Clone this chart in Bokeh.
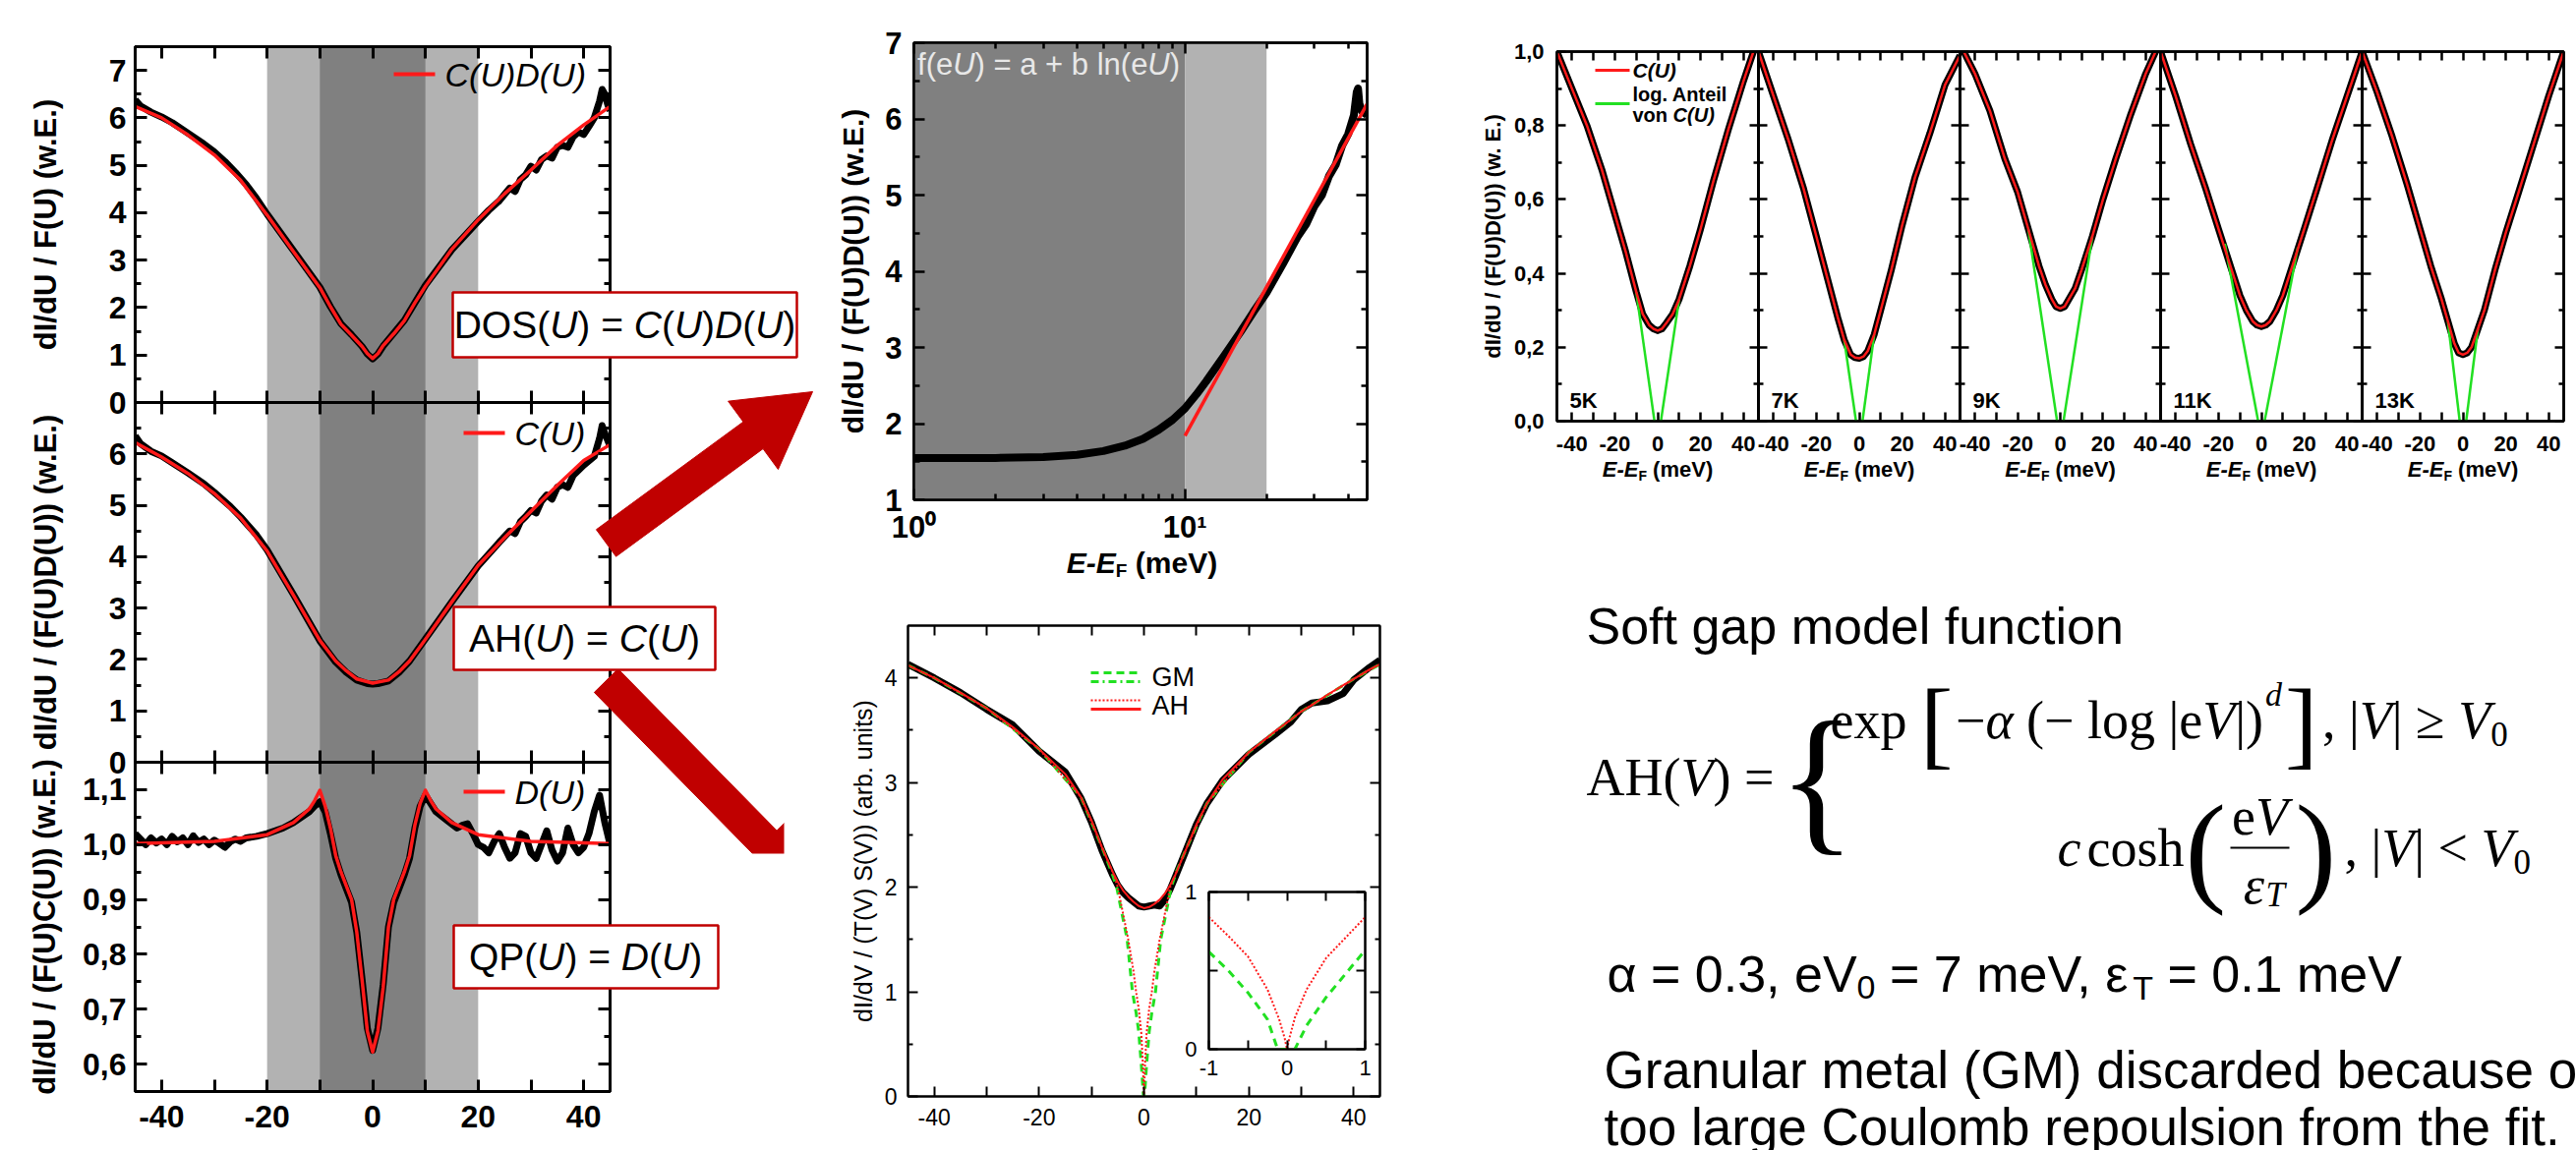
import math
from bokeh.plotting import figure
from bokeh.models import (Range1d, LinearAxis, LogAxis, FixedTicker, Column,
                          CustomJSTickFormatter, BoxAnnotation, Label)
from bokeh.embed import file_html
from bokeh.resources import INLINE

# ------------------------------------------------------------------ data
# Left column: normalised tunnelling spectra vs. E-E_F (meV)
DOS_X = [-45, -40, -35, -30, -25, -20, -15, -10, -8, -6, -4, -2, -1, 0,
         1, 2, 4, 6, 8, 10, 15, 20, 25, 30, 35, 40, 45]
DOS_FIT = [6.24, 6.0, 5.64, 5.22, 4.68, 3.95, 3.18, 2.42, 2.02, 1.65, 1.42, 1.18, 1.03, 0.93,
           1.03, 1.2, 1.45, 1.72, 2.1, 2.45, 3.23, 3.85, 4.4, 4.9, 5.42, 5.85, 6.24]
DOS_DATA = [(-45, 6.38), (-44, 6.25), (-42, 6.12), (-40, 6.02), (-38, 5.9), (-36, 5.75),
            (-34, 5.6), (-32, 5.45), (-30, 5.28), (-28, 5.08), (-26, 4.85), (-24, 4.6),
            (-22, 4.3), (-20, 3.97), (-15, 3.2), (-10, 2.43), (-8, 2.02), (-6, 1.66),
            (-4, 1.43), (-2, 1.18), (-1, 1.02), (0, 0.92), (1, 1.02), (2, 1.19), (4, 1.46),
            (6, 1.73), (8, 2.1), (10, 2.47), (15, 3.22), (20, 3.82), (22, 4.05), (24, 4.25),
            (26, 4.52), (27, 4.45), (28, 4.7), (29, 4.8), (30, 4.98), (31, 4.9), (32, 5.12),
            (33, 5.2), (34, 5.15), (35, 5.38), (36, 5.42), (37, 5.38), (38, 5.6), (39, 5.7),
            (40, 5.65), (41, 5.82), (42, 6.0), (43, 6.35), (43.5, 6.6), (44, 6.5),
            (44.5, 6.3), (45, 6.15)]

C_X = [-45, -40, -35, -30, -25, -20, -15, -10, -7, -5, -3, 0,
       3, 5, 7, 10, 15, 20, 25, 30, 35, 40, 45]
C_FIT = [6.22, 5.94, 5.62, 5.23, 4.75, 4.11, 3.25, 2.37, 1.97, 1.78, 1.62, 1.54,
         1.6, 1.76, 1.97, 2.39, 3.12, 3.83, 4.37, 4.88, 5.39, 5.87, 6.18]
C_DATA = [(-45, 6.35), (-44, 6.2), (-42, 6.05), (-40, 5.96), (-38, 5.83), (-35, 5.63),
          (-32, 5.42), (-30, 5.25), (-27, 4.98), (-25, 4.77), (-22, 4.42), (-20, 4.13),
          (-15, 3.26), (-10, 2.36), (-7, 1.95), (-5, 1.75), (-3, 1.6), (-1, 1.53), (0, 1.52),
          (1, 1.53), (3, 1.58), (5, 1.75), (7, 1.97), (10, 2.4), (15, 3.12), (20, 3.82),
          (24, 4.28), (26, 4.5), (27, 4.45), (28, 4.68), (29, 4.78), (30, 4.9), (31, 4.85),
          (32, 5.08), (33, 5.2), (34, 5.12), (35, 5.35), (36, 5.4), (37, 5.35), (38, 5.58),
          (40, 5.78), (42, 5.95), (43, 6.3), (43.5, 6.55), (44, 6.4), (45, 6.15)]

D_X = [-45, -30, -20, -15, -12, -11, -10, -9, -8, -7, -6, -5, -4, -3, -2, -1, 0,
       1, 2, 3, 4, 5, 6, 7, 8, 9, 10, 11, 12, 15, 20, 30, 45]
D_FIT = [1.002, 1.006, 1.018, 1.04, 1.065, 1.08, 1.099, 1.07, 1.03, 0.98, 0.95, 0.925,
         0.9, 0.84, 0.753, 0.66, 0.622, 0.66, 0.74, 0.85, 0.9, 0.925, 0.95, 0.98, 1.035,
         1.075, 1.099, 1.08, 1.065, 1.04, 1.018, 1.006, 1.002]
D_DATA = [(-45, 1.02), (-44, 1.01), (-43, 1.0), (-42, 1.012), (-41, 1.003), (-40, 1.01),
          (-39, 1.0), (-38, 1.015), (-37, 1.005), (-36, 1.012), (-35, 1.0), (-34, 1.016),
          (-33, 1.004), (-32, 1.01), (-31, 1.0), (-30, 1.008), (-29, 1.002), (-28, 0.995),
          (-27, 1.005), (-26, 1.01), (-25, 1.006), (-24, 1.012), (-22, 1.015), (-20, 1.02),
          (-17, 1.03), (-15, 1.04), (-12, 1.06), (-11, 1.07), (-10, 1.078), (-9, 1.06),
          (-8, 1.02), (-7, 0.975), (-6, 0.945), (-5, 0.92), (-4, 0.895), (-3, 0.84),
          (-2, 0.755), (-1, 0.665), (0, 0.625), (1, 0.665), (2, 0.745), (3, 0.85), (4, 0.895),
          (5, 0.92), (6, 0.945), (7, 0.975), (8, 1.03), (9, 1.07), (10, 1.09), (11, 1.075),
          (12, 1.06), (14, 1.045), (16, 1.03), (17, 1.035), (18, 1.038), (19, 1.02), (20, 1.0),
          (21, 0.995), (22, 0.985), (23, 1.005), (24, 1.02), (25, 0.995), (26, 0.975),
          (27, 0.985), (28, 1.02), (29, 1.015), (30, 0.985), (31, 0.975), (32, 1.0),
          (33, 1.025), (34, 0.99), (35, 0.97), (36, 0.985), (37, 1.03), (38, 1.0),
          (39, 0.985), (40, 0.995), (41, 1.02), (42, 1.06), (43, 1.09), (44, 1.04), (45, 1.0)]

SHADE_OUTER = (-20, 20)
SHADE_INNER = (-10, 10)

# Log-scale panel: one branch of C(U) against E-E_F (meV)
LOG_DATA = [(1, 1.55), (1.5, 1.55), (2, 1.55), (3, 1.56), (4, 1.59), (5, 1.64), (6, 1.71),
            (7, 1.8), (8, 1.92), (9, 2.05), (10, 2.2), (11, 2.38), (12, 2.56), (14, 2.9),
            (16, 3.2), (18, 3.48), (20, 3.72), (23, 4.1), (26, 4.45), (28, 4.62), (30, 4.85),
            (32, 5.0), (34, 5.25), (36, 5.4), (38, 5.65), (40, 5.8), (42, 6.05), (43, 6.35),
            (43.5, 6.4), (44, 6.2), (45, 6.1), (47, 6.05)]
LOG_FIT = [(10, 1.84), (47, 6.2)]
LOG_SHADE_DARK = (1, 10)
LOG_SHADE_LIGHT = (10, 20)

# Soft-gap fit panel (arb. units)
SG_X = [-45, -40, -35, -30, -25, -20, -15, -12, -10, -8, -6, -5, -4, -3, -2, -1, 0,
        1, 2, 3, 4, 5, 6, 8, 10, 12, 15, 20, 25, 28, 30, 32, 35, 38, 40, 43, 45]
SG_DATA = [4.13, 4.0, 3.86, 3.7, 3.55, 3.3, 3.1, 2.85, 2.62, 2.35, 2.12, 2.02, 1.95, 1.9,
           1.86, 1.82, 1.81, 1.82, 1.83, 1.82, 1.88, 1.98, 2.1, 2.35, 2.6, 2.8, 3.02, 3.27,
           3.46, 3.58, 3.7, 3.76, 3.78, 3.85, 3.98, 4.1, 4.17]
SG_FIT = [4.12, 4.0, 3.86, 3.71, 3.53, 3.32, 3.08, 2.86, 2.64, 2.38, 2.15, 2.05, 1.97, 1.91,
          1.86, 1.82, 1.8, 1.81, 1.84, 1.88, 1.94, 2.02, 2.12, 2.36, 2.6, 2.8, 3.03, 3.29,
          3.49, 3.6, 3.68, 3.74, 3.84, 3.93, 3.99, 4.08, 4.13]
AH_CURVE = [(-45, 4.12), (-40, 4.0), (-30, 3.71), (-20, 3.32), (-12, 2.86), (-8, 2.38),
            (-6, 2.15), (-5, 2.0), (-4, 1.75), (-3, 1.5), (-2, 1.2), (-1.5, 1.0), (-1, 0.84),
            (-0.5, 0.6), (-0.2, 0.3), (0, 0), (0.2, 0.3), (0.5, 0.6), (1, 0.84), (1.5, 1.0),
            (2, 1.2), (3, 1.5), (4, 1.75), (5, 2.0), (6, 2.12), (8, 2.36), (12, 2.8),
            (20, 3.29), (30, 3.68), (40, 3.99), (45, 4.13)]
GM_CURVE = [(-45, 4.12), (-40, 4.0), (-30, 3.71), (-20, 3.32), (-12, 2.86), (-8, 2.38),
            (-6.2, 2.15), (-5.2, 2.0), (-4.2, 1.75), (-3.2, 1.5), (-2.2, 1.0), (-1.5, 0.8),
            (-1, 0.62), (-0.5, 0.3), (-0.1, 0), (0.1, 0), (0.5, 0.3), (1, 0.62), (1.5, 0.8),
            (2.2, 1.0), (3.2, 1.5), (4.2, 1.75), (5.2, 2.0), (6.2, 2.15), (8, 2.36),
            (12, 2.8), (20, 3.29), (30, 3.68), (40, 3.99), (45, 4.13)]
INSET_AH = [(-1, 0.84), (-0.75, 0.72), (-0.5, 0.59), (-0.25, 0.38), (-0.1, 0.19),
            (-0.03, 0.07), (0, 0), (0.03, 0.07), (0.1, 0.2), (0.25, 0.38), (0.5, 0.58),
            (0.75, 0.71), (1, 0.84)]
INSET_GM = [(-1, 0.62), (-0.75, 0.5), (-0.5, 0.36), (-0.25, 0.19), (-0.12, 0), (0.1, 0),
            (0.25, 0.15), (0.5, 0.33), (0.75, 0.48), (1, 0.63)]

# Temperature series: C(U) normalised, E-E_F (meV)
TEMPS = ["5K", "7K", "9K", "11K", "13K"]
T_X = [-47, -40, -33, -26, -20, -15, -10, -7, -4, -2, 0, 2, 4, 7, 10, 15, 20, 26, 33, 40, 47]
C_5K = [1.0, 0.9, 0.8, 0.68, 0.56, 0.46, 0.35, 0.29, 0.26, 0.25, 0.245, 0.25, 0.265, 0.29,
        0.33, 0.42, 0.52, 0.65, 0.79, 0.92, 1.04]
C_7K = [1.0, 0.88, 0.76, 0.63, 0.5, 0.39, 0.28, 0.22, 0.18, 0.172, 0.17, 0.175, 0.19, 0.235,
        0.3, 0.41, 0.53, 0.66, 0.78, 0.91, 0.99]
C_9K = [1.02, 0.94, 0.84, 0.71, 0.62, 0.52, 0.42, 0.37, 0.33, 0.31, 0.305, 0.31, 0.33, 0.36,
        0.41, 0.5, 0.6, 0.71, 0.83, 0.94, 1.03]
C_11K = [1.0, 0.88, 0.75, 0.63, 0.52, 0.43, 0.34, 0.3, 0.27, 0.26, 0.256, 0.26, 0.27, 0.3,
         0.34, 0.43, 0.52, 0.63, 0.76, 0.88, 1.0]
C_13K = [1.0, 0.89, 0.77, 0.64, 0.52, 0.42, 0.33, 0.27, 0.21, 0.185, 0.18, 0.185, 0.2, 0.25,
         0.3, 0.41, 0.51, 0.62, 0.75, 0.88, 1.0]
T_FIT = [C_5K, C_7K, C_9K, C_11K, C_13K]
# logarithmic part of C(U): where it leaves the fit and where it reaches zero
LOG_JOIN_X = [10, 7, 15, 17, 7]
LOG_JOIN_LEFT = [0.35, 0.22, 0.52, 0.48, 0.27]
LOG_JOIN_RIGHT = [0.33, 0.235, 0.5, 0.47, 0.25]
LOG_ZERO_X = [1.5, 1.5, 1.5, 1.5, 1.5]

# tick positions
LEFT_XTICKS = [-40, -30, -20, -10, 0, 10, 20, 30, 40]
TOP_YTICKS = [0, 1, 2, 3, 4, 5, 6, 7]
TOP_YMINOR = [0.5, 1.5, 2.5, 3.5, 4.5, 5.5, 6.5]
MID_YTICKS = [0, 1, 2, 3, 4, 5, 6]
MID_YMINOR = [0.5, 1.5, 2.5, 3.5, 4.5, 5.5, 6.5]
BOT_YTICKS = [0.6, 0.7, 0.8, 0.9, 1.0, 1.1]
BOT_YMINOR = [0.65, 0.75, 0.85, 0.95, 1.05]
LOG_XTICKS = [1, 10]
LOG_XMINOR = [2, 3, 4, 5, 6, 7, 8, 9, 20, 30, 40]
LOG_YTICKS = [1, 2, 3, 4, 5, 6, 7]
LOG_YMINOR = [1.5, 2.5, 3.5, 4.5, 5.5, 6.5]
SG_XTICKS = [-40, -30, -20, -10, 0, 10, 20, 30, 40]
SG_YTICKS = [0, 1, 2, 3, 4]
SG_YMINOR = [0.5, 1.5, 2.5, 3.5]
IN_XTICKS = [-1, 0, 1]
IN_XMINOR = [-0.5, 0.5]
IN_YTICKS = [0, 1]
IN_YMINOR = [0.5]
T_XTICKS = [-40, -30, -20, -10, 0, 10, 20, 30, 40]
T_YTICKS = [0.0, 0.2, 0.4, 0.6, 0.8, 1.0]
T_YMINOR = [0.1, 0.3, 0.5, 0.7, 0.9]

# ------------------------------------------------------------------ style
W, H = 2620, 1170
SANS = "Liberation Sans"
SERIF = "Liberation Serif"
DARK_RED = "#c00000"
RED = "#ff1a1a"
GREEN = "#22e022"
LIGHT_GRAY = "#b2b2b2"
DARK_GRAY = "#808080"

FMT_INT = "return tick.toFixed(0);"
FMT_INT20 = "return (Math.abs(Math.round(tick)) % 20 === 0) ? tick.toFixed(0) : '';"
FMT_COMMA = "return tick.toFixed(1).replace('.', ',');"
FMT_LOG = ("if (Math.abs(tick - 1) < 1e-6) return '10\u2070';"
           "if (Math.abs(tick - 10) < 1e-6) return '10\u00b9'; return '';")

# advance widths (em) used to chain text pieces
REG = {' ': .278, '(': .333, ')': .333, '-': .333, '=': .584, '+': .584, '.': .278,
       ',': .278, 'A': .667, 'C': .722, 'D': .722, 'E': .667, 'F': .611, 'H': .722,
       'O': .778, 'P': .667, 'Q': .778, 'S': .667, 'T': .611, 'U': .722, 'V': .667,
       'a': .556, 'b': .556, 'e': .556, 'f': .278, 'l': .222, 'm': .833, 'n': .556,
       'o': .556, 'v': .5, 'g': .556, 'i': .222, 't': .278,
       '\u03b1': .578, '\u03b5': .446}
BOLD = dict(REG, m=.889, o=.611, n=.611, v=.556, g=.611, i=.278, t=.333, l=.278)
SERIF_W = {'A': .722, 'H': .722, '(': .333, ')': .333, 'V': .611, ' ': .25, '=': .564,
           ',': .25, '|': .2, '\u2265': .549, '<': .564, '0': .5, 'e': .444, 'x': .5,
           'p': .5, 'c': .444, 'o': .5, 's': .389, 'h': .5, 'l': .278, 'g': .5, 'd': .5,
           '\u2212': .564, '\u03b1': .52, '[': .333, ']': .333}


def text_width(s, size, table):
    return sum(table.get(ch, .556) for ch in s) * size


def blank():
    return CustomJSTickFormatter(code="return '';")


def panel(frame, xr, yr, height=H, log_x=False, fill=None):
    x0, y0, x1, y1 = frame
    p = figure(width=W, height=height, x_range=Range1d(*xr), y_range=Range1d(*yr),
               x_axis_type="log" if log_x else "linear", toolbar_location=None,
               output_backend="svg", min_border_left=x0, min_border_right=W - x1,
               min_border_top=y0, min_border_bottom=height - y1)
    p.grid.visible = False
    p.background_fill_color = fill
    p.border_fill_color = None
    p.outline_line_color = "black"
    return p


def style(ax, lw, tin, tmin, size, fstyle, stand):
    ax.axis_line_width = lw
    ax.axis_line_color = "black"
    ax.major_tick_line_width = lw
    ax.minor_tick_line_width = lw
    ax.major_tick_in = tin
    ax.major_tick_out = 0
    ax.minor_tick_in = tmin
    ax.minor_tick_out = 0
    ax.major_label_text_font = SANS
    ax.major_label_text_font_size = f"{size}px"
    ax.major_label_text_font_style = fstyle
    ax.major_label_text_color = "black"
    ax.major_label_standoff = stand
    ax.axis_label_text_font = SANS
    ax.axis_label_text_color = "black"


def frame_axes(p, xt, yt, xfmt, yfmt, lw, tin, tmin, size, fstyle, xstand, ystand,
               log_x=False):
    p.outline_line_width = lw
    bottom, left = p.xaxis[0], p.yaxis[0]
    top = LogAxis() if log_x else LinearAxis()
    right = LinearAxis()
    p.add_layout(top, "above")
    p.add_layout(right, "right")
    bottom.ticker = xt
    top.ticker = xt
    left.ticker = yt
    right.ticker = yt
    bottom.formatter = CustomJSTickFormatter(code=xfmt) if xfmt else blank()
    left.formatter = CustomJSTickFormatter(code=yfmt) if yfmt else blank()
    top.formatter = blank()
    right.formatter = blank()
    for ax, st in ((bottom, xstand), (top, 0), (left, ystand), (right, 0)):
        style(ax, lw, tin, tmin, size, fstyle, st)
    return left


def ylabel(ax, text, size, fstyle, stand):
    ax.axis_label = text
    ax.axis_label_text_font_size = f"{size}px"
    ax.axis_label_text_font_style = fstyle
    ax.axis_label_standoff = stand


def shade(p, span, color):
    p.add_layout(BoxAnnotation(left=span[0], right=span[1], fill_color=color,
                               fill_alpha=1.0, line_color=None, level="underlay"))


def put(fig, x, y, text, size, font=SANS, fstyle="normal", align="left",
        base="middle", color="black", x_offset=0):
    fig.add_layout(Label(x=x, y=y, text=text, text_font=font,
                         text_font_size=f"{size}px", text_font_style=fstyle,
                         text_align=align, text_baseline=base, text_color=color,
                         x_offset=x_offset))


def put_run(fig, x, y, pieces, center=False, font=SANS, table=None):
    """pieces: (text, size, style, dy) chained left to right; returns end x."""
    def tab(st):
        if table is not None:
            return table
        return BOLD if "bold" in st else REG
    widths = [text_width(t, s, tab(st)) for t, s, st, dy in pieces]
    if center:
        x -= sum(widths) / 2
    for (t, s, st, dy), w in zip(pieces, widths):
        body = t.lstrip(" ")
        lead = text_width(t[:len(t) - len(body)], s, tab(st))
        if body.strip(" "):
            put(fig, x + lead, y + dy, body, s, font=font, fstyle=st)
        x += w
    return x


def unzip(pts):
    return [a for a, b in pts], [b for a, b in pts]


# ------------------------------------------------------------------ left column
LX0, LX1 = 137, 620
ROWS = [47, 409, 775, 1140]
left_specs = [
    ((0, 7.5), TOP_YTICKS, TOP_YMINOR, FMT_INT, "dI/dU / F(U) (w.E.)", 44,
     DOS_X, DOS_FIT, DOS_DATA, None, H),
    ((0, 7.0), MID_YTICKS, MID_YMINOR, FMT_INT, "dI/dU / (F(U)D(U)) (w.E.)", 44,
     C_X, C_FIT, C_DATA, None, H),
    ((0.55, 1.15), BOT_YTICKS, BOT_YMINOR, FMT_COMMA, "dI/dU / (F(U)C(U)) (w.E.)", 18,
     D_X, D_FIT, D_DATA, FMT_INT20, 1200),
]
left_figs = []
for i, (yr, yt, ym, yfmt, lab, stand, fx, fy, dat, xfmt, hh) in enumerate(left_specs):
    p = panel((LX0, ROWS[i], LX1, ROWS[i + 1]), (-45, 45), yr, height=hh)
    shade(p, SHADE_OUTER, LIGHT_GRAY)
    shade(p, SHADE_INNER, DARK_GRAY)
    dx, dy = unzip(dat)
    p.line(dx, dy, line_color="black", line_width=7, line_join="round")
    p.line(fx, fy, line_color=RED, line_width=3.5, line_join="round")
    left = frame_axes(p, FixedTicker(ticks=LEFT_XTICKS), FixedTicker(ticks=yt, minor_ticks=ym),
                      xfmt, yfmt, 3, 12, 6, 32, "bold", 14, 9)
    ylabel(left, lab, 31, "bold", stand)
    left_figs.append(p)

# ------------------------------------------------------------------ log panel
mt = panel((929, 43, 1390, 508), (1, 47), (1, 7), log_x=True)
shade(mt, LOG_SHADE_DARK, DARK_GRAY)
shade(mt, LOG_SHADE_LIGHT, LIGHT_GRAY)
lx, ly = unzip(LOG_DATA)
mt.line(lx, ly, line_color="black", line_width=8, line_join="round")
fx, fy = unzip(LOG_FIT)
mt.line(fx, fy, line_color=RED, line_width=3.5)
mleft = frame_axes(mt, FixedTicker(ticks=LOG_XTICKS, minor_ticks=LOG_XMINOR),
                   FixedTicker(ticks=LOG_YTICKS, minor_ticks=LOG_YMINOR),
                   FMT_LOG, FMT_INT, 2.5, 11, 6, 31, "bold", 10, 12, log_x=True)
ylabel(mleft, "dI/dU / (F(U)D(U)) (w.E.)", 30, "bold", 13)
# fit function written inside the dark band
fe_pieces = [("f(e", "normal"), ("U", "italic"), (") = a + b ln(e", "normal"),
             ("U", "italic"), (")", "normal")]
off = 0
for t, st in fe_pieces:
    put(mt, 1.03, 6.72, t, 31, fstyle=st, color="#e8e8e8", x_offset=off)
    off += text_width(t, 31, REG)

# ------------------------------------------------------------------ soft-gap panel
mb = panel((923, 636, 1403, 1115), (-45, 45), (0, 4.5))
mb.line(SG_X, SG_DATA, line_color="black", line_width=7, line_join="round")
gx, gy = unzip(GM_CURVE)
mb.line(gx, gy, line_color=GREEN, line_width=3, line_dash="8 6")
ax_, ay_ = unzip(AH_CURVE)
mb.line(ax_, ay_, line_color=RED, line_width=2, line_dash="2 2")
mb.line(SG_X, SG_FIT, line_color=RED, line_width=2)
bleft = frame_axes(mb, FixedTicker(ticks=SG_XTICKS),
                   FixedTicker(ticks=SG_YTICKS, minor_ticks=SG_YMINOR),
                   FMT_INT20, FMT_INT, 2, 10, 5, 23, "normal", 12, 11)
ylabel(bleft, "dI/dV / (T(V) S(V)) (arb. units)", 25, "normal", 5)

inset = panel((1229, 907, 1388, 1067), (-1, 1), (0, 1), fill="white")
ix, iy = unzip(INSET_GM)
inset.line(ix, iy, line_color=GREEN, line_width=3, line_dash="8 6")
ix, iy = unzip(INSET_AH)
inset.line(ix, iy, line_color=RED, line_width=2, line_dash="2 2")
frame_axes(inset, FixedTicker(ticks=IN_XTICKS, minor_ticks=IN_XMINOR),
           FixedTicker(ticks=IN_YTICKS, minor_ticks=IN_YMINOR),
           FMT_INT, FMT_INT, 2, 9, 9, 22, "normal", 11, 12)

# ------------------------------------------------------------------ temperature series
R_EDGES = [1583, 1788, 1993, 2197, 2402, 2607]
RY0, RY1 = 52, 428
right_figs = []
for i, (name, fit) in enumerate(zip(TEMPS, T_FIT)):
    p = panel((R_EDGES[i], RY0, R_EDGES[i + 1], RY1), (-47, 47), (0, 1.0))
    p.line(T_X, fit, line_color="black", line_width=7, line_join="round")
    j, z = LOG_JOIN_X[i], LOG_ZERO_X[i]
    p.multi_line([[-j, -z], [z, j]], [[LOG_JOIN_LEFT[i], 0], [0, LOG_JOIN_RIGHT[i]]],
                 line_color=GREEN, line_width=2.5)
    p.line(T_X, fit, line_color=RED, line_width=2.5, line_join="round")
    lft = frame_axes(p, FixedTicker(ticks=T_XTICKS),
                     FixedTicker(ticks=T_YTICKS, minor_ticks=T_YMINOR),
                     FMT_INT20, FMT_COMMA if i == 0 else None,
                     2.5, 9, 5, 22, "bold", 15, 13)
    if i == 0:
        ylabel(lft, "dI/dU / (F(U)D(U)) (w. E.)", 22, "bold", 6)
    right_figs.append(p)

# ------------------------------------------------------------------ overlay: arrows, boxes, text
ov = figure(width=W, height=H, x_range=Range1d(0, W), y_range=Range1d(H, 0),
            x_axis_type=None, y_axis_type=None, toolbar_location=None,
            output_backend="svg", min_border=0)
ov.background_fill_color = None
ov.border_fill_color = None
ov.outline_line_color = None


def arrow_shape(tail, tip, shaft, head_w, head_l):
    dx, dy = tip[0] - tail[0], tip[1] - tail[1]
    n = math.hypot(dx, dy)
    ux, uy = dx / n, dy / n
    nx, ny = -uy, ux
    bx, by = tip[0] - ux * head_l, tip[1] - uy * head_l
    pts = [(tail[0] + nx * shaft / 2, tail[1] + ny * shaft / 2),
           (bx + nx * shaft / 2, by + ny * shaft / 2),
           (bx + nx * head_w / 2, by + ny * head_w / 2),
           tip,
           (bx - nx * head_w / 2, by - ny * head_w / 2),
           (bx - nx * shaft / 2, by - ny * shaft / 2),
           (tail[0] - nx * shaft / 2, tail[1] - ny * shaft / 2)]
    return [q[0] for q in pts], [q[1] for q in pts]


for tail, tip in (((616, 552), (826, 398)), ((616, 692), (830, 910))):
    xs, ys = arrow_shape(tail, tip, 34, 86, 75)
    ov.patch(xs, ys, fill_color=DARK_RED, line_color=DARK_RED)
# the lower arrow is cropped at the edge of its picture
ov.quad(left=[797, 700], right=[900, 900], top=[780, 868], bottom=[960, 960],
        fill_color="white", line_color=None)

# equation boxes
ov.quad(left=[460, 461, 461], right=[810, 727, 730], top=[297, 617, 941],
        bottom=[363, 681, 1005], fill_color="white", line_color=DARK_RED, line_width=2.5)
I_, N_ = "italic", "normal"
put_run(ov, 635, 330, [("DOS(", 39, N_, 0), ("U", 39, I_, 0), (") = ", 39, N_, 0),
                       ("C", 39, I_, 0), ("(", 39, N_, 0), ("U", 39, I_, 0), (")", 39, N_, 0),
                       ("D", 39, I_, 0), ("(", 39, N_, 0), ("U", 39, I_, 0), (")", 39, N_, 0)],
        center=True)
put_run(ov, 594, 649, [("AH(", 39, N_, 0), ("U", 39, I_, 0), (") = ", 39, N_, 0),
                       ("C", 39, I_, 0), ("(", 39, N_, 0), ("U", 39, I_, 0), (")", 39, N_, 0)],
        center=True)
put_run(ov, 595, 973, [("QP(", 39, N_, 0), ("U", 39, I_, 0), (") = ", 39, N_, 0),
                       ("D", 39, I_, 0), ("(", 39, N_, 0), ("U", 39, I_, 0), (")", 39, N_, 0)],
        center=True)

# legends of the left column
for (x0, x1, y), lab in (((400, 442, 75), "C(U)D(U)"), ((471, 513, 440), "C(U)"),
                         ((471, 513, 805), "D(U)")):
    ov.line([x0, x1], [y, y], line_color=RED, line_width=4)
    put(ov, x1 + 10, y, lab, 34, fstyle="italic")

# legend of the soft-gap panel
ov.line([1109, 1160], [684, 684], line_color=GREEN, line_width=3, line_dash="8 5")
ov.line([1109, 1160], [693, 693], line_color=GREEN, line_width=3, line_dash="8 4 2 4")
ov.line([1109, 1160], [712, 712], line_color=RED, line_width=2, line_dash="2 2")
ov.line([1109, 1160], [721, 721], line_color=RED, line_width=3)
put(ov, 1171, 688, "GM", 27)
put(ov, 1171, 717, "AH", 27)

# axis titles with subscripts
put_run(ov, 1161, 572, [("E-E", 30, "bold italic", 0), ("F", 19, "bold", 8),
                        (" (meV)", 30, "bold", 0)], center=True)
put_run(ov, 1163, 1178, [("E-E", 24, "italic", 0), ("F", 15, "normal", 6),
                         (" (meV)", 24, "normal", 0)], center=True)
for i, name in enumerate(TEMPS):
    c = (R_EDGES[i] + R_EDGES[i + 1]) / 2
    put_run(ov, c, 477, [("E-E", 22, "bold italic", 0), ("F", 14, "bold", 6),
                         (" (meV)", 22, "bold", 0)], center=True)
    put(ov, R_EDGES[i] + 13, 407, name, 22, fstyle="bold")

# legend of the temperature series
ov.line([1622, 1657], [71, 71], line_color=RED, line_width=3)
ov.line([1622, 1657], [105, 105], line_color=GREEN, line_width=3)
put(ov, 1660, 71, "C(U)", 21, fstyle="bold italic")
put(ov, 1660, 95, "log. Anteil", 20, fstyle="bold")
put_run(ov, 1660, 116, [("von ", 20, "bold", 0), ("C(U)", 20, "bold italic", 0)])

# model description
put(ov, 1613, 636, "Soft gap model function", 52)
put_run(ov, 1613, 790, [("AH(", 54, N_, 0), ("V", 54, I_, 0), (") =", 54, N_, 0)],
        font=SERIF, table=SERIF_W)
put(ov, 1808, 792, "{", 165, font=SERIF)
# upper case: exp[-a(-log|eV|)^d], |V| >= V0
x = put_run(ov, 1861, 732, [("exp ", 54, N_, 0)], font=SERIF, table=SERIF_W)
put(ov, x, 736, "[", 100, font=SERIF)
x = put_run(ov, x + 36, 732, [("\u2212", 54, N_, 0), ("\u03b1", 54, I_, 0),
                              (" (\u2212 log |e", 54, N_, 0), ("V", 54, I_, 0),
                              ("|)", 54, N_, 0)], font=SERIF, table=SERIF_W)
put(ov, x + 2, 706, "d", 34, font=SERIF, fstyle=I_)
put(ov, x + 22, 736, "]", 100, font=SERIF)
x = put_run(ov, x + 60, 732, [(", |", 54, N_, 0), ("V", 54, I_, 0), ("| \u2265 ", 54, N_, 0),
                              ("V", 54, I_, 0), ("0", 35, N_, 14)],
            font=SERIF, table=SERIF_W)
# lower case: c cosh(eV/eps_T), |V| < V0
put(ov, 2092, 862, "c", 54, font=SERIF, fstyle=I_)
put(ov, 2122, 862, "cosh", 54, font=SERIF)
put(ov, 2222, 862, "(", 125, font=SERIF)
put_run(ov, 2298, 830, [("e", 54, N_, 0), ("V", 54, I_, 0)], center=True,
        font=SERIF, table=SERIF_W)
put(ov, 2292, 900, "\u03b5", 54, font=SERIF, fstyle=I_, align="center")
put(ov, 2304, 910, "T", 35, font=SERIF, fstyle=I_)
ov.line([2268, 2328], [862, 862], line_color="black", line_width=2)
put(ov, 2334, 862, ")", 125, font=SERIF)
put_run(ov, 2384, 862, [(", |", 54, N_, 0), ("V", 54, I_, 0), ("| < ", 54, N_, 0),
                        ("V", 54, I_, 0), ("0", 35, N_, 14)], font=SERIF, table=SERIF_W)

put_run(ov, 1634, 990, [("\u03b1 = 0.3, eV", 52, N_, 0), ("0", 34, N_, 14),
                        (" = 7 meV, \u03b5", 52, N_, 0), ("T", 34, N_, 14),
                        (" = 0.1 meV", 52, N_, 0)])
put(ov, 1631, 1088, "Granular metal (GM) discarded because of", 53)
put(ov, 1631, 1146, "too large Coulomb repoulsion from the fit.", 53)

# ------------------------------------------------------------------ page
# every layer is its own root, stacked at the top-left corner of the page
def pinned(extra=None):
    st = {"position": "absolute", "left": "0px", "top": "0px"}
    if extra:
        st.update(extra)
    return st


bottom_left = left_figs[2]
clip_box = Column(children=[bottom_left], width=W, height=H,
                  styles=pinned({"overflow": "hidden"}))
roots = []
for f in [left_figs[0], left_figs[1], clip_box, ov, mt, mb, inset] + right_figs:
    if f is not clip_box:
        f.styles = pinned()
    roots.append(f)

open("out.html", "w").write(file_html(roots, INLINE))
